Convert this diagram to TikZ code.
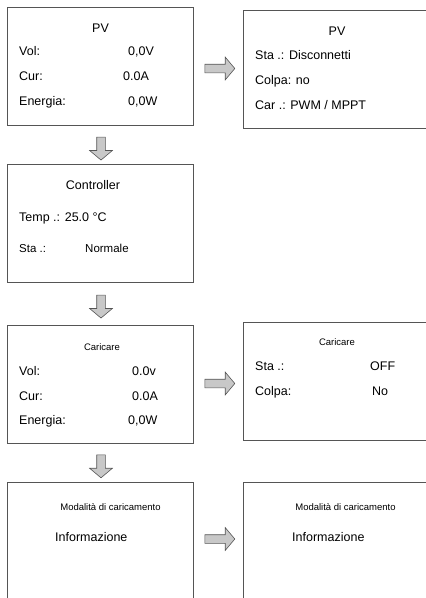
\documentclass[tikz,border=0pt]{standalone}
\usepackage{fontspec}
\setmainfont{Liberation Sans}
\usetikzlibrary{shapes.arrows,calc}
\definecolor{framegray}{RGB}{85,85,85}
\definecolor{arrowfill}{RGB}{200,200,200}
\newcommand\txtsize{\fontsize{12.5}{15}\selectfont}
\newcommand\smallsize{\fontsize{9.5}{11}\selectfont}

\begin{document}
\begin{tikzpicture}[x=1pt,y=-1pt,
    screen/.style={draw=framegray, line width=0.9pt, minimum width=186, minimum height=118, inner sep=0},
    lbl/.style={anchor=base west, inner sep=0, font=\txtsize},
    ttl/.style={anchor=base, inner sep=0, font=\txtsize},
    smallttl/.style={anchor=base, inner sep=0, font=\smallsize},
    blockarrow/.style={single arrow, draw=framegray, fill=arrowfill, line width=0.6pt,
        inner xsep=0, inner ysep=4pt, single arrow head indent=0, single arrow tip angle=100},
    downarr/.style={blockarrow, rotate=-90, minimum height=23, minimum width=22},
    rightarr/.style={blockarrow, minimum height=30, minimum width=19}]
			\useasboundingbox (0,0) rectangle (426,598);
			\clip (0,0) rectangle (426,598);
			% screens
			\node[screen] (pv)     at (100,66)    {};
			\node[screen] (pvsta)  at (336,69)    {};
			\node[screen] (ctrl)   at (100,223.5) {};
			\node[screen] (car)    at (100,384)   {};
			\node[screen] (carsta) at (336,381)   {};
			\node[screen] (mode)   at (100,541)   {};
			\node[screen] (info)   at (336,541)   {};
			% arrows
			\node[downarr]  (a1) at ($(pv.south)!0.5!(ctrl.north)+(1,2)$)  {};
			\node[downarr]  (a2) at ($(ctrl.south)!0.5!(car.north)+(1,1)$) {};
			\node[downarr]  (a3) at ($(car.south)!0.5!(mode.north)+(1,2)$) {};
			\node[rightarr] (a4) at ($(pv.east)!0.5!(pvsta.west)+(0,1)$)   {};
			\node[rightarr] (a5) at ($(car.east)!0.5!(carsta.west)+(0,1)$) {};
			\node[rightarr] (a6) at ($(mode.east)!0.5!(info.west)+(0,-2)$) {};
			% PV
			\node[ttl] (pvt)  at (100.5,32.5) {PV};
			\node[lbl] (pv1)  at (19,55.5)  {Vol:};
			\node[lbl] (pv2)  at (19,80.5)  {Cur:};
			\node[lbl] (pv3)  at (19,105.5) {Energia:};
			\node[lbl] (pv1v) at (128,55.5)  {0,0V};
			\node[lbl] (pv2v) at (123,80.5)  {0.0A};
			\node[lbl] (pv3v) at (128,105.5) {0,0W};
			% PV state
			\node[ttl] (pst)  at (337,35.5) {PV};
			\node[lbl] (ps1)  at (255,59.5)  {Sta .: Disconnetti};
			\node[lbl] (ps2)  at (255,84.5)  {Colpa: no};
			\node[lbl] (ps3)  at (255,109.5) {Car .: PWM / MPPT};
			% controller
			\node[ttl] (ctt)  at (93,189.5) {Controller};
			\node[lbl] (ct1)  at (19,221.5) {Temp .: 25.0 °C};
			\node[lbl, font=\fontsize{11.5}{14}\selectfont] (ct2)  at (19,252) {Sta .:};
			\node[lbl, font=\fontsize{11.5}{14}\selectfont] (ct2v) at (85,252) {Normale};
			% charging
			\node[smallttl] (cat) at (102,350.5) {Caricare};
			\node[lbl] (ca1)  at (19,375.5) {Vol:};
			\node[lbl] (ca2)  at (19,400.5) {Cur:};
			\node[lbl] (ca3)  at (19,424.5) {Energia:};
			\node[lbl] (ca1v) at (132,375.5) {0.0v};
			\node[lbl] (ca2v) at (132,400.5) {0.0A};
			\node[lbl] (ca3v) at (128,424.5) {0,0W};
			% charging state
			\node[smallttl] (cst) at (337,345.5) {Caricare};
			\node[lbl] (cs1)  at (255,370.5) {Sta .:};
			\node[lbl] (cs2)  at (255,395.5) {Colpa:};
			\node[lbl] (cs1v) at (370,370.5) {OFF};
			\node[lbl] (cs2v) at (372,395.5) {No};
			% charging mode
			\node[smallttl] (mdt) at (110.5,510.5) {Modalità di caricamento};
			\node[lbl]      (md1) at (55,541)      {Informazione};
			\node[smallttl] (ift) at (345.5,510.5) {Modalità di caricamento};
			\node[lbl]      (if1) at (292,541)     {Informazione};
		\end{tikzpicture}
\end{document}
